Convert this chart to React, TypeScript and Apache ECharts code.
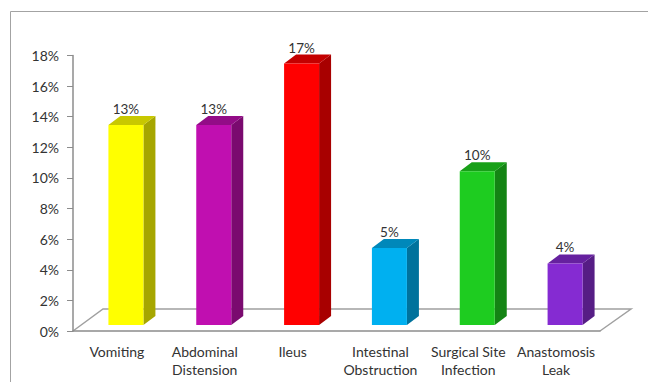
import React, { useEffect, useRef } from "react";
import * as echarts from "echarts";

const categories = [
  "Vomiting",
  "Abdominal\nDistension",
  "Ileus",
  "Intestinal\nObstruction",
  "Surgical Site\nInfection",
  "Anastomosis\nLeak",
];
const percentages = [13, 13, 17, 5, 10, 4];
const frontColors = ["#FFFF00", "#C00FB0", "#FF0000", "#00B0F0", "#1ECC20", "#852BD2"];
const topColors = ["#C8C800", "#930C87", "#C40000", "#0088BA", "#18A018", "#66219F"];
const sideColors = ["#A6A600", "#7A0A6F", "#A80000", "#00729C", "#148414", "#561D85"];
const yTicks = { min: 0, max: 18, step: 2 };

const FONT = "Lato";
const TEXT = "#333333";
const AXIS = "#8c8c8c";
const FLOOR = "#a0a0a0";

// Box proportions of the pseudo-3D columns, in pixels
const BAR_WIDTH = 35;
const BAR_SHIFT = 9; // distance from the band centre to the front face centre
const BAR_LIFT = 6;
const BAR_STRETCH = 1.005; // front faces are foreshortened slightly against the axis
const DEPTH_X = 12;
const DEPTH_Y = 9;

function renderBox(params: any, api: any) {
  const i = api.value(0);
  const top = api.coord([i, api.value(1)]);
  const base = api.coord([i, 0]);
  const cx = top[0] + BAR_SHIFT;
  const x0 = cx - BAR_WIDTH / 2;
  const x1 = cx + BAR_WIDTH / 2;
  const yB = base[1] - BAR_LIFT;
  const yT = yB - (base[1] - top[1]) * BAR_STRETCH;
  return {
    type: "group",
    children: [
      {
        type: "polygon",
        shape: {
          points: [
            [x1, yT],
            [x1 + DEPTH_X, yT - DEPTH_Y],
            [x1 + DEPTH_X, yB - DEPTH_Y],
            [x1, yB],
          ],
        },
        style: { fill: sideColors[i] },
      },
      {
        type: "polygon",
        shape: {
          points: [
            [x0, yT],
            [x0 + DEPTH_X, yT - DEPTH_Y],
            [x1 + DEPTH_X, yT - DEPTH_Y],
            [x1, yT],
          ],
        },
        style: { fill: topColors[i] },
      },
      {
        type: "rect",
        shape: { x: x0, y: yT, width: BAR_WIDTH, height: yB - yT },
        style: { fill: frontColors[i] },
      },
      {
        type: "text",
        style: {
          x: cx,
          y: yT - DEPTH_Y - 7,
          text: `${api.value(1)}%`,
          align: "center",
          verticalAlign: "middle",
          fill: TEXT,
          font: `13.5px ${FONT}`,
        },
      },
    ],
  };
}

export default function App() {
  const ref = useRef<HTMLDivElement>(null);

  useEffect(() => {
    const chart = echarts.init(ref.current!, null, { renderer: "svg" });
    chart.setOption({
      animation: false,
      backgroundColor: "#ffffff",
      textStyle: { fontFamily: FONT },
      grid: { left: 73, top: 55.5, width: 527, height: 275.5, containLabel: false },
      xAxis: {
        type: "category",
        data: categories,
        axisLine: { lineStyle: { color: AXIS, width: 1.5 } },
        axisTick: { length: 6, lineStyle: { color: AXIS, width: 1 } },
        axisLabel: {
          color: TEXT,
          fontFamily: FONT,
          fontSize: 14,
          lineHeight: 18,
          margin: 11,
          interval: 0,
        },
      },
      yAxis: {
        type: "value",
        min: yTicks.min,
        max: yTicks.max,
        interval: yTicks.step,
        splitLine: { show: false },
        axisLine: { show: true, lineStyle: { color: AXIS, width: 1.5 } },
        axisTick: { show: true, length: 6, lineStyle: { color: AXIS, width: 1 } },
        axisLabel: {
          color: TEXT,
          fontFamily: FONT,
          fontSize: 14,
          margin: 14,
          formatter: "{value}%",
        },
      },
      graphic: [
        {
          // outer chart frame: only the top and left edges show
          type: "polyline",
          silent: true,
          z: 0,
          shape: { points: [[648, 11.5], [10.5, 11.5], [10.5, 382]] },
          style: { fill: "none", stroke: "#a3a3a3", lineWidth: 1 },
        },
        {
          // perspective floor
          type: "polyline",
          silent: true,
          z: 0,
          shape: { points: [[73, 331], [103, 309], [631, 309], [600, 331]] },
          style: { fill: "none", stroke: FLOOR, lineWidth: 1.5 },
        },
      ],
      series: [
        {
          type: "custom",
          renderItem: renderBox,
          clip: false,
          encode: { x: 0, y: 1 },
          data: percentages.map((v, i) => [i, v]),
        },
      ],
    });
    return () => chart.dispose();
  }, []);

  return (
    <div
      ref={ref}
      style={{ position: "absolute", left: 0, top: 0, width: 648, height: 382 }}
    />
  );
}
